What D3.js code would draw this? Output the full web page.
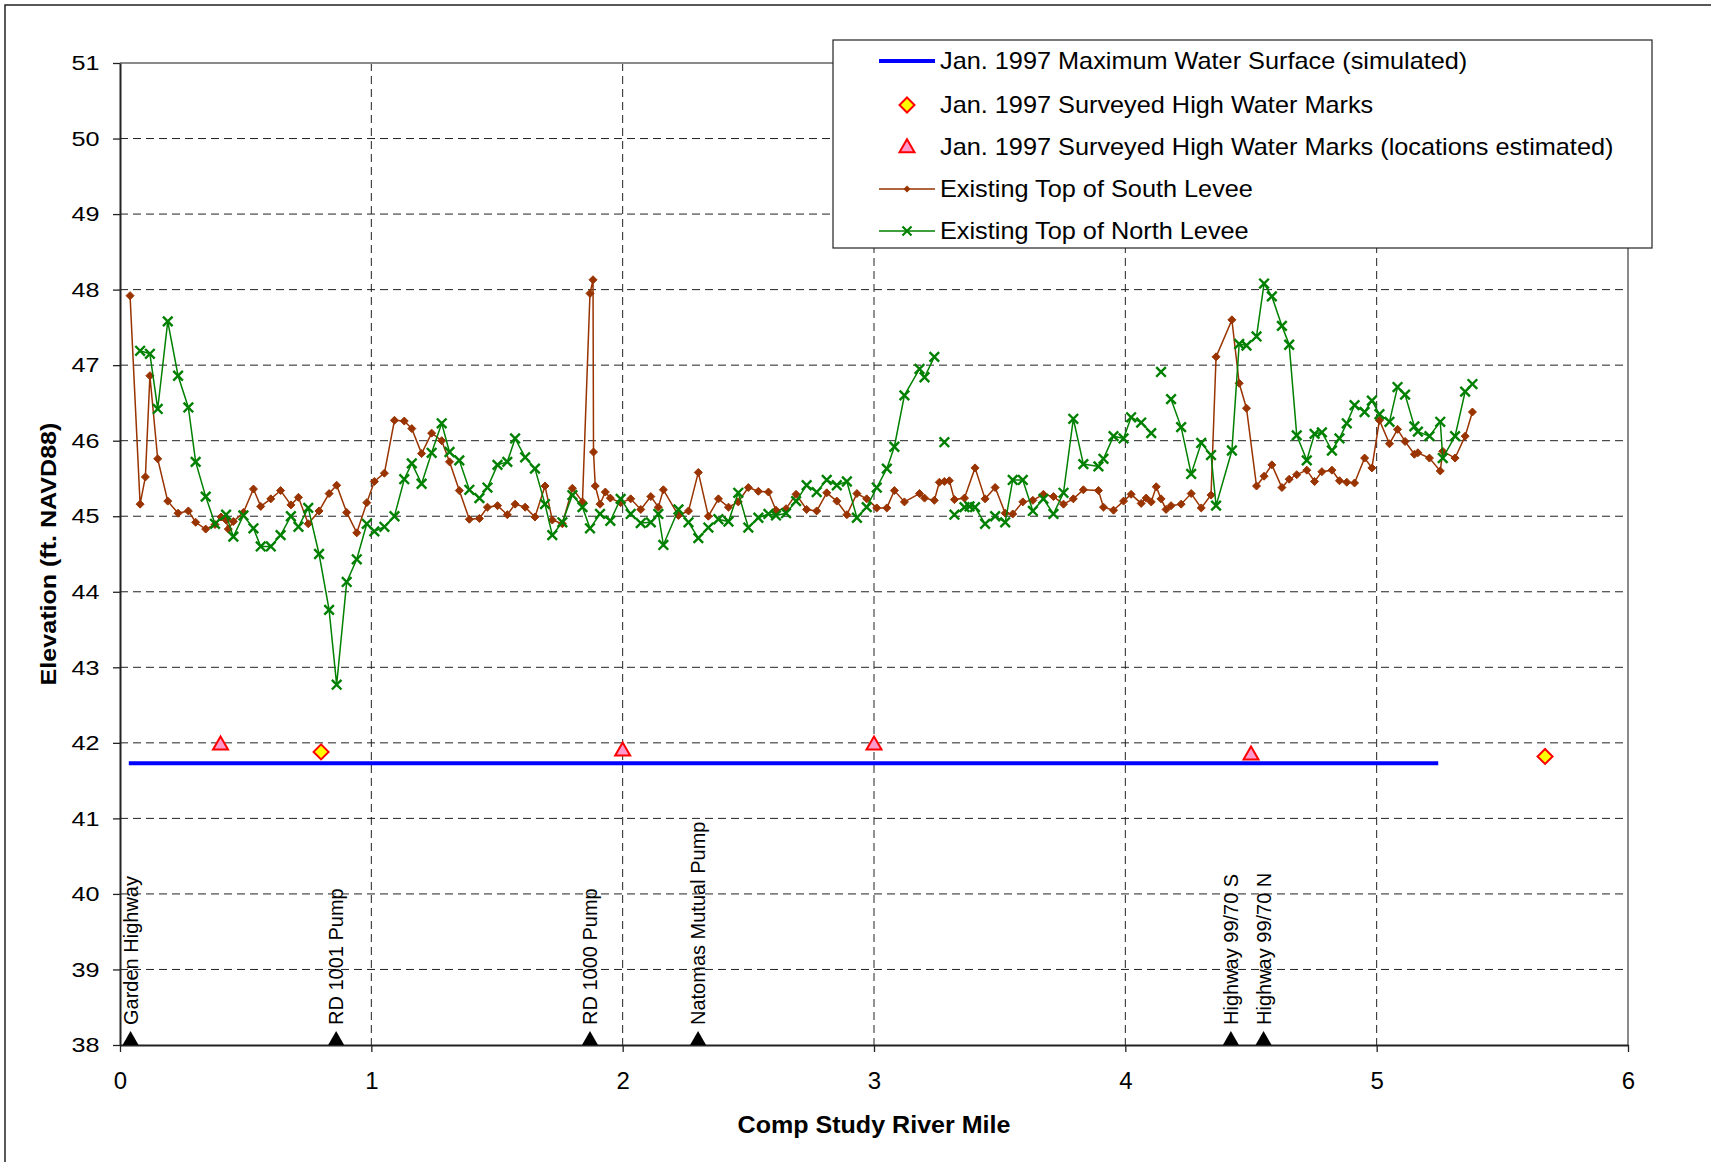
<!DOCTYPE html>
<html><head><meta charset="utf-8">
<script src="https://cdn.jsdelivr.net/npm/d3@7"></script>
<style>
body{margin:0;background:#fff;}
svg{display:block;font-family:"Liberation Sans",Arial,sans-serif;}
</style></head><body>
<svg id="chart" width="1711" height="1162"></svg>
<script>
// ---------------- data ----------------
const southMile = [0.040,0.080,0.101,0.119,0.150,0.190,0.231,0.272,0.301,0.341,0.378,0.402,0.422,0.431,0.451,0.491,0.531,0.560,0.600,0.639,0.680,0.710,0.749,0.792,0.832,0.862,0.902,0.942,0.982,1.012,1.052,1.092,1.131,1.161,1.200,1.240,1.280,1.311,1.350,1.390,1.430,1.462,1.502,1.541,1.572,1.612,1.651,1.691,1.720,1.760,1.800,1.840,1.870,1.882,1.884,1.891,1.910,1.931,1.951,1.992,2.032,2.072,2.112,2.142,2.162,2.222,2.262,2.301,2.341,2.381,2.421,2.460,2.500,2.540,2.580,2.610,2.650,2.690,2.732,2.772,2.812,2.852,2.892,2.932,2.971,3.011,3.051,3.081,3.121,3.181,3.201,3.240,3.260,3.280,3.300,3.320,3.360,3.402,3.442,3.482,3.522,3.552,3.592,3.632,3.674,3.714,3.754,3.793,3.833,3.893,3.913,3.953,3.993,4.023,4.063,4.083,4.103,4.123,4.142,4.162,4.182,4.222,4.262,4.302,4.341,4.361,4.424,4.453,4.482,4.522,4.552,4.583,4.623,4.652,4.682,4.722,4.753,4.782,4.822,4.852,4.881,4.912,4.952,4.981,5.011,5.051,5.083,5.113,5.150,5.164,5.210,5.253,5.263,5.312,5.352,5.381];
const southElev = [47.92,45.16,45.52,46.86,45.76,45.20,45.04,45.07,44.92,44.83,44.89,44.99,44.95,44.83,44.93,45.05,45.36,45.13,45.23,45.34,45.15,45.25,44.90,45.07,45.30,45.41,45.05,44.78,45.18,45.46,45.57,46.27,46.26,46.16,45.83,46.10,46.00,45.72,45.34,44.96,44.97,45.12,45.14,45.02,45.16,45.12,44.99,45.40,44.95,44.90,45.37,45.19,47.95,48.13,45.85,45.40,45.16,45.32,45.24,45.18,45.23,45.09,45.26,45.12,45.35,45.01,45.07,45.58,45.00,45.23,45.12,45.19,45.38,45.33,45.32,45.08,45.10,45.29,45.09,45.07,45.31,45.20,45.02,45.30,45.23,45.11,45.11,45.34,45.19,45.30,45.24,45.21,45.45,45.46,45.47,45.22,45.24,45.64,45.23,45.38,45.04,45.03,45.19,45.21,45.29,45.26,45.16,45.23,45.35,45.34,45.12,45.08,45.20,45.29,45.17,45.24,45.19,45.39,45.23,45.09,45.14,45.16,45.30,45.11,45.28,47.11,47.60,46.76,46.43,45.40,45.53,45.68,45.38,45.49,45.55,45.61,45.46,45.59,45.61,45.47,45.45,45.44,45.77,45.64,46.27,45.96,46.15,45.99,45.82,45.84,45.77,45.60,45.86,45.77,46.06,46.38];

// null = break in the line (missing survey point)
const northMile = [0.080,0.119,0.150,0.190,0.231,0.272,0.301,0.341,0.378,0.422,0.451,0.491,0.531,0.560,0.600,0.639,0.680,0.710,0.749,0.792,0.832,0.862,0.902,0.942,0.982,1.012,1.052,1.092,1.131,1.161,1.200,1.240,1.280,1.311,1.350,1.390,1.430,1.462,1.502,1.541,1.572,1.612,1.651,1.691,1.720,1.760,1.800,1.840,1.870,1.910,1.951,1.992,2.032,2.072,2.112,2.142,2.162,2.222,2.262,2.301,2.341,2.381,2.421,2.460,2.500,2.540,2.580,2.610,2.650,2.690,2.732,2.772,2.812,2.852,2.892,2.932,2.971,3.011,3.051,3.081,3.121,3.181,3.201,3.240,3.260,3.280,3.300,3.320,3.360,3.380,3.402,3.442,3.482,3.522,3.552,3.592,3.632,3.674,3.714,3.754,3.793,3.833,3.893,3.913,3.953,3.993,4.023,4.063,4.103,4.120,4.142,4.160,4.182,4.222,4.262,4.302,4.341,4.361,4.424,4.453,4.482,4.522,4.552,4.583,4.623,4.652,4.682,4.722,4.753,4.782,4.822,4.852,4.881,4.912,4.952,4.981,5.011,5.051,5.083,5.113,5.150,5.164,5.210,5.253,5.263,5.312,5.352,5.381];
const northElev = [47.19,47.15,46.42,47.58,46.86,46.44,45.72,45.26,44.90,45.02,44.73,45.01,44.84,44.60,44.60,44.75,45.00,44.86,45.11,44.50,43.76,42.77,44.13,44.43,44.90,44.80,44.86,45.00,45.49,45.70,45.43,45.84,46.23,45.85,45.74,45.35,45.24,45.38,45.68,45.72,46.03,45.78,45.63,45.16,44.75,44.92,45.28,45.12,44.84,45.03,44.94,45.23,45.03,44.91,44.92,45.03,44.62,45.09,44.92,44.71,44.85,44.96,44.93,45.31,44.85,44.98,45.03,45.01,45.04,45.20,45.41,45.32,45.48,45.41,45.46,44.98,45.12,45.38,45.63,45.92,46.60,46.95,46.84,47.11,null,45.98,null,45.02,45.12,45.13,45.12,44.90,45.00,44.92,45.48,45.48,45.07,45.23,45.03,45.31,46.29,45.69,45.66,45.76,46.06,46.03,46.31,46.24,46.10,null,46.91,null,46.55,46.18,45.56,45.97,45.81,45.14,45.87,47.28,47.26,47.38,48.08,47.91,47.52,47.27,46.07,45.74,46.09,46.11,45.87,46.03,46.23,46.47,46.38,46.53,46.35,46.25,46.71,46.61,46.19,46.12,46.06,46.25,45.77,46.06,46.65,46.75];

const wsMile = [0.035, 5.245];
const wsElev = [41.73, 41.73];
const hwmMile = [0.80, 5.67];
const hwmElev = [41.88, 41.82];
const hwmEstMile = [0.40, 2.00, 3.00, 4.50];
const hwmEstElev = [41.98, 41.90, 41.98, 41.85];

const landmarkNames = ["Garden Highway","RD 1001 Pump","RD 1000 Pump","Natomas Mutual Pump","Highway 99/70 S","Highway 99/70 N"];
const landmarkMile = [0.042, 0.86, 1.87, 2.30, 4.42, 4.55];

const xTicks = [0,1,2,3,4,5,6];
const yTicks = [38,39,40,41,42,43,44,45,46,47,48,49,50,51];

const legendLabels = [
  "Jan. 1997 Maximum Water Surface (simulated)",
  "Jan. 1997 Surveyed High Water Marks",
  "Jan. 1997 Surveyed High Water Marks (locations estimated)",
  "Existing Top of South Levee",
  "Existing Top of North Levee"
];
const xTitle = "Comp Study River Mile";
const yTitle = "Elevation (ft. NAVD88)";

// ---------------- drawing ----------------
const BROWN = "#993300", GREEN = "#008000", BLUE = "#0000FF", RED = "#FF0000";
const svg = d3.select("#chart");
const x = d3.scaleLinear().domain([0,6]).range([120,1628]);
const y = d3.scaleLinear().domain([38,51]).range([1045,63]);

// outer frame (only top/left visible in picture)
svg.append("rect").attr("x",5).attr("y",5).attr("width",1800).attr("height",1400)
  .attr("fill","none").attr("stroke","#222").attr("stroke-width",1.5);

// grid
const grid = svg.append("g");
grid.selectAll("line.h").data(yTicks.filter(v=>v>38&&v<51)).join("line").attr("class","h")
  .attr("x1",x(0)).attr("x2",x(6)).attr("y1",d=>y(d)).attr("y2",d=>y(d))
  .attr("stroke","#222").attr("stroke-width",1).attr("stroke-dasharray","8,5");
grid.selectAll("line.v").data(xTicks.filter(v=>v>0&&v<6)).join("line").attr("class","v")
  .attr("y1",y(51)).attr("y2",y(38)).attr("x1",d=>x(d)).attr("x2",d=>x(d))
  .attr("stroke","#222").attr("stroke-width",1).attr("stroke-dasharray","8,5");

// plot frame top/right
svg.append("path").attr("d",`M${x(0)},${y(51)}H${x(6)}V${y(38)}`)
  .attr("fill","none").attr("stroke","#8a8a8a").attr("stroke-width",2);

// axes
const yAxis = d3.axisLeft(y).tickValues(yTicks).tickSize(7).tickSizeOuter(0).tickPadding(10).tickFormat(d3.format("d"));
svg.append("g").attr("transform",`translate(${x(0)},0)`).call(yAxis)
  .attr("font-size",null).attr("font-family",null)
  .call(g=>g.select(".domain").attr("stroke","#222").attr("stroke-width",2))
  .call(g=>g.selectAll(".tick line").attr("stroke","#222").attr("stroke-width",1.3))
  .call(g=>g.selectAll(".tick text").attr("font-size",21).attr("fill","#000")
     .attr("transform","scale(1.2,1)"));

const xAxis = d3.axisBottom(x).tickValues(xTicks).tickSize(7).tickSizeOuter(0).tickPadding(20).tickFormat(d3.format("d"));
svg.append("g").attr("transform",`translate(0,${y(38)})`).call(xAxis)
  .attr("font-size",null).attr("font-family",null)
  .call(g=>g.select(".domain").attr("stroke","#222").attr("stroke-width",2))
  .call(g=>g.selectAll(".tick line").attr("stroke","#222").attr("stroke-width",1.3))
  .call(g=>g.selectAll(".tick text").attr("font-size",24).attr("fill","#000"));

// axis titles
svg.append("text").attr("transform",`translate(874,1133) scale(1.09,1)`)
  .attr("text-anchor","middle").attr("font-weight","bold").attr("font-size",23).text(xTitle);
svg.append("text").attr("transform",`translate(48,554) rotate(-90) scale(1.14,1)`)
  .attr("text-anchor","middle").attr("dy","0.35em").attr("font-weight","bold").attr("font-size",22).text(yTitle);

// water surface line
const wsData = wsMile.map((m,i)=>[m,wsElev[i]]);
const line = d3.line().defined(d=>d[1]!=null).x(d=>x(d[0])).y(d=>y(d[1]));
svg.append("path").datum(wsData).attr("d",line).attr("fill","none").attr("stroke",BLUE).attr("stroke-width",4);

// markers
const diamondPath = (cx,cy,r)=>`M${cx},${cy-r}L${cx+r},${cy}L${cx},${cy+r}L${cx-r},${cy}Z`;
const triPath = (cx,cy,w,h)=>`M${cx},${cy-h*0.6}L${cx+w/2},${cy+h*0.4}L${cx-w/2},${cy+h*0.4}Z`;
const xPath = (cx,cy,r)=>`M${cx-r},${cy-r}L${cx+r},${cy+r}M${cx-r},${cy+r}L${cx+r},${cy-r}`;

svg.append("g").selectAll("path").data(hwmEstMile.map((m,i)=>[m,hwmEstElev[i]])).join("path")
  .attr("d",d=>triPath(x(d[0]),y(d[1]),15,13)).attr("fill","#FF99CC").attr("stroke",RED).attr("stroke-width",2);
svg.append("g").selectAll("path").data(hwmMile.map((m,i)=>[m,hwmElev[i]])).join("path")
  .attr("d",d=>diamondPath(x(d[0]),y(d[1]),7.5)).attr("fill","#FFFF00").attr("stroke",RED).attr("stroke-width",2);

// south levee
const southData = southMile.map((m,i)=>[m,southElev[i]]);
svg.append("path").datum(southData).attr("d",line).attr("fill","none").attr("stroke",BROWN).attr("stroke-width",1.5);
svg.append("g").selectAll("path").data(southData).join("path")
  .attr("d",d=>diamondPath(x(d[0]),y(d[1]),4)).attr("fill",BROWN).attr("stroke",BROWN).attr("stroke-width",1);

// north levee
const northData = northMile.map((m,i)=>[m,northElev[i]]);
svg.append("path").datum(northData).attr("d",line).attr("fill","none").attr("stroke",GREEN).attr("stroke-width",1.5);
svg.append("g").selectAll("path").data(northData.filter(d=>d[1]!=null)).join("path")
  .attr("d",d=>xPath(x(d[0]),y(d[1]),4.8)).attr("fill","none").attr("stroke",GREEN).attr("stroke-width",2.4);

// landmarks
const lm = svg.append("g");
lm.selectAll("path").data(landmarkMile).join("path")
  .attr("d",d=>`M${x(d)-8},${y(38)}L${x(d)+8},${y(38)}L${x(d)},${y(38)-14}Z`).attr("fill","#000");
lm.selectAll("text").data(landmarkNames).join("text")
  .attr("transform",(d,i)=>`translate(${x(landmarkMile[i])},1025) rotate(-90)`)
  .attr("dy","0.35em").attr("font-size",20).attr("fill","#000").text(d=>d);

// legend
const lg = svg.append("g");
lg.append("rect").attr("x",833).attr("y",40).attr("width",819).attr("height",208)
  .attr("fill","#fff").attr("stroke","#222").attr("stroke-width",1.2);
const rowY = [61,105,147,189,231];
const symX = 907;
lg.append("line").attr("x1",879).attr("x2",935).attr("y1",rowY[0]).attr("y2",rowY[0]).attr("stroke",BLUE).attr("stroke-width",4);
lg.append("path").attr("d",diamondPath(symX,rowY[1],7.5)).attr("fill","#FFFF00").attr("stroke",RED).attr("stroke-width",2);
lg.append("path").attr("d",triPath(symX,rowY[2],15,13)).attr("fill","#FF99CC").attr("stroke",RED).attr("stroke-width",2);
lg.append("line").attr("x1",879).attr("x2",935).attr("y1",rowY[3]).attr("y2",rowY[3]).attr("stroke",BROWN).attr("stroke-width",1.5);
lg.append("path").attr("d",diamondPath(symX,rowY[3],3.5)).attr("fill",BROWN);
lg.append("line").attr("x1",879).attr("x2",935).attr("y1",rowY[4]).attr("y2",rowY[4]).attr("stroke",GREEN).attr("stroke-width",1.5);
lg.append("path").attr("d",xPath(symX,rowY[4],4.5)).attr("fill","none").attr("stroke",GREEN).attr("stroke-width",2.2);
lg.selectAll("text").data(legendLabels).join("text")
  .attr("transform",(d,i)=>`translate(940,${rowY[i]}) scale(1.1,1)`)
  .attr("dy","0.35em").attr("font-size",23).attr("fill","#000").text(d=>d);
</script>
</body></html>
